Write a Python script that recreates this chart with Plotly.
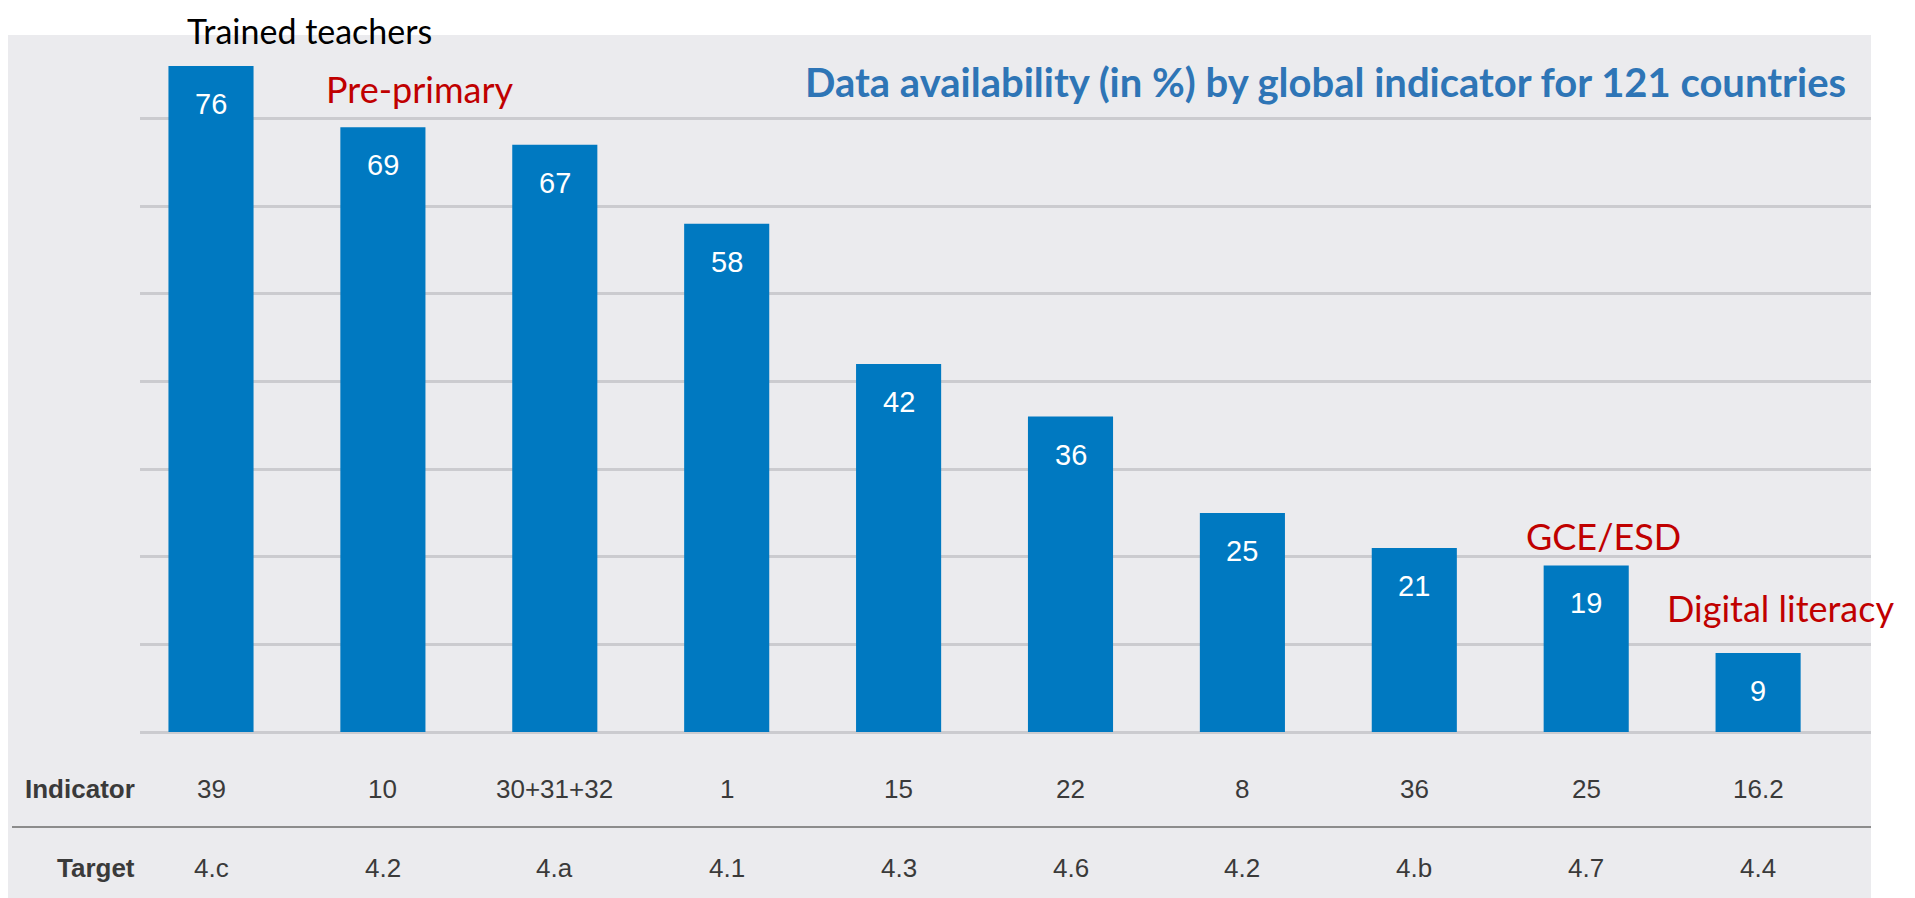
import plotly.graph_objects as go

# ---------------- data ----------------
indicators = ["39", "10", "30+31+32", "1", "15", "22", "8", "36", "25", "16.2"]
targets = ["4.c", "4.2", "4.a", "4.1", "4.3", "4.6", "4.2", "4.b", "4.7", "4.4"]
availability = [76, 69, 67, 58, 42, 36, 25, 21, 19, 9]
title_text = "Data availability (in %) by global indicator for 121 countries"
row_labels = ["Indicator", "Target"]
callouts = ["Trained teachers", "Pre-primary", "GCE/ESD", "Digital literacy"]

# ---------------- geometry (screen pixels) ----------------
W, H = 1915, 898
OFF = 8                      # default page body margin
PL, PR, PT, PB = 140, 1871, 35, 732
UNIT = 8.764                 # px per percentage point
CAT0, CATSTEP = 211, 171.9

def px(x):
    return (x - PL) / (PR - PL)

def py(y):
    return (PB - y) / (PB - PT)

BG = "#EBEBEE"
BAR = "#0079C1"
GRID = "#CBCBCF"
RED = "#C00000"
BLUE = "#2E75B6"
TXT = "#3A3A3A"
SANS = "Liberation Sans, Arial, sans-serif"

fig = go.Figure()
fig.add_trace(go.Bar(
    x=indicators, y=availability,
    marker=dict(color=BAR, line=dict(width=0)),
    hoverinfo="skip", showlegend=False,
))

annotations = []
# value labels inside bars
for i, v in enumerate(availability):
    annotations.append(dict(
        x=i, y=v, xref="x", yref="y", text=str(v), showarrow=False,
        yshift=-38, yanchor="middle",
        font=dict(family=SANS, size=29, color="white"),
    ))

# table rows
row_y = [py(789), py(868)]
for lab, yy in zip(row_labels, row_y):
    annotations.append(dict(
        x=px(137), y=yy, xref="paper", yref="paper", text="<b>%s</b>" % lab,
        showarrow=False, xanchor="right", yanchor="middle",
        font=dict(family=SANS, size=26, color=TXT),
    ))
for i, (ind, tg) in enumerate(zip(indicators, targets)):
    for txt, yy in zip([ind, tg], row_y):
        annotations.append(dict(
            x=i, y=yy, xref="x", yref="paper", text=txt, showarrow=False,
            xanchor="center", yanchor="middle",
            font=dict(family=SANS, size=26, color=TXT),
        ))

# title
annotations.append(dict(
    x=px(1848), y=py(82), xref="paper", yref="paper", text="<b>%s</b>" % title_text,
    showarrow=False, xanchor="right", yanchor="middle",
    font=dict(family="Lato, sans-serif", size=40, color=BLUE),
))

# callouts
callout_pos = [(309, 31, "black"), (420, 89, RED), (1603, 536, RED), (1780, 608, RED)]
callout_size = [34, 36, 36, 36]
for txt, (cx, cy, col), fs in zip(callouts, callout_pos, callout_size):
    annotations.append(dict(
        x=px(cx), y=py(cy), xref="paper", yref="paper", text=txt,
        showarrow=False, xanchor="center", yanchor="middle",
        font=dict(family="Lato, sans-serif", size=fs, color=col),
    ))

shapes = [
    # grey panel
    dict(type="rect", xref="paper", yref="paper", x0=px(8), x1=1, y0=py(H + 20), y1=py(PT),
         fillcolor=BG, line=dict(width=0), layer="below"),
    # separator between table rows
    dict(type="line", xref="paper", yref="paper", x0=px(12), x1=1, y0=py(827), y1=py(827),
         line=dict(color="#8C8C8C", width=2), layer="above"),
]

fig.update_layout(
    width=W, height=H,
    margin=dict(l=PL - OFF, r=W - (PR - OFF), t=PT - OFF, b=H - (PB - OFF), pad=0),
    paper_bgcolor="white", plot_bgcolor=BG,
    bargap=0.505,
    xaxis=dict(type="category", range=[(PL - CAT0) / CATSTEP, (PR - CAT0) / CATSTEP],
               showticklabels=False, showgrid=False, zeroline=False, showline=False,
               ticks="", fixedrange=True),
    yaxis=dict(range=[0, (PB - PT) / UNIT], tick0=0, dtick=10, showticklabels=False,
               showgrid=True, gridcolor=GRID, gridwidth=3,
               zeroline=True, zerolinecolor=GRID, zerolinewidth=3,
               ticks="", fixedrange=True),
    annotations=annotations,
    shapes=shapes,
)

fig.write_html("out.html")
